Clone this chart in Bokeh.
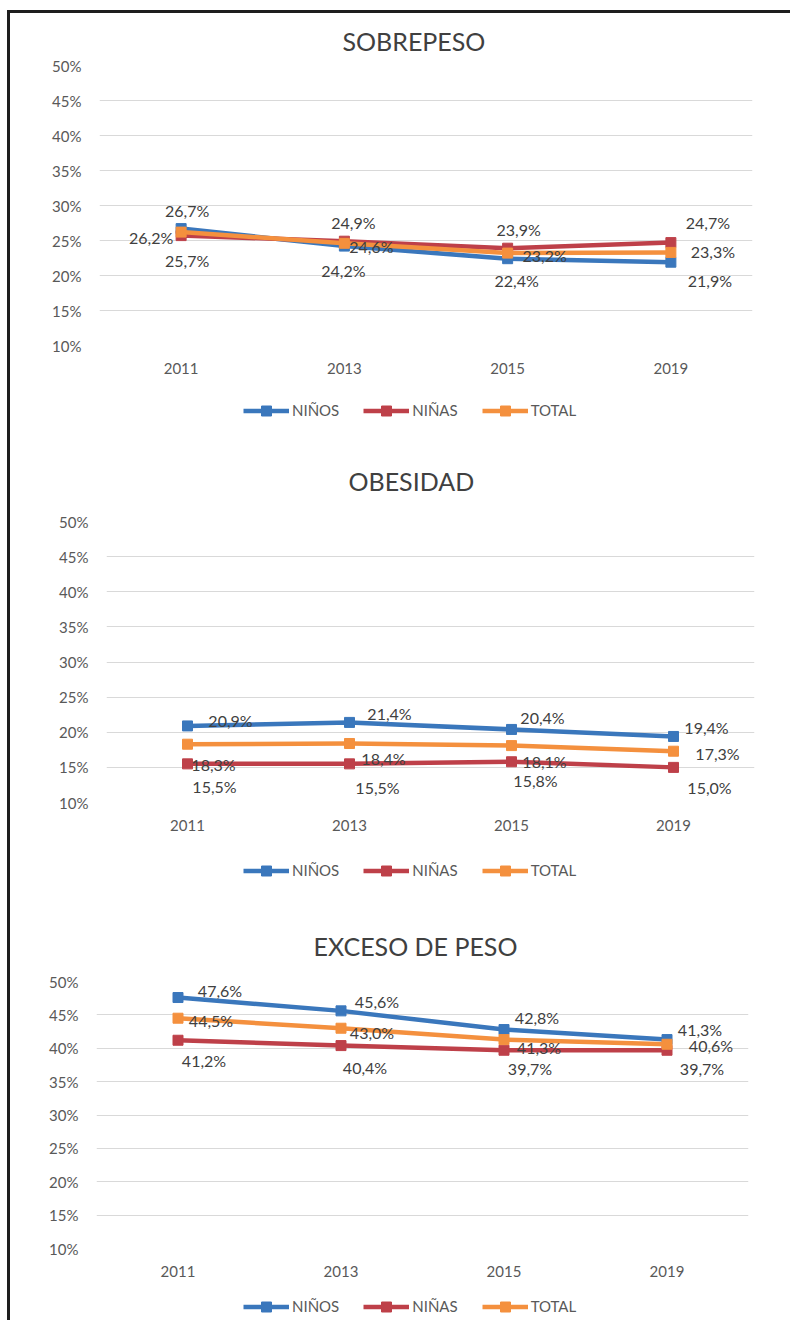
from bokeh.plotting import figure
from bokeh.layouts import column, row
from bokeh.models import (Range1d, FactorRange, FixedTicker, PrintfTickFormatter,
                          Legend, LegendItem, ColumnDataSource, Spacer)
from bokeh.core.properties import value
from bokeh.embed import file_html
from bokeh.resources import INLINE

# ---------------- data ----------------
years = ["2011", "2013", "2015", "2019"]
series_names = ["NIÑOS", "NIÑAS", "TOTAL"]

sobrepeso_ninos = [26.7, 24.2, 22.4, 21.9]
sobrepeso_ninas = [25.7, 24.9, 23.9, 24.7]
sobrepeso_total = [26.2, 24.6, 23.2, 23.3]

obesidad_ninos = [20.9, 21.4, 20.4, 19.4]
obesidad_ninas = [15.5, 15.5, 15.8, 15.0]
obesidad_total = [18.3, 18.4, 18.1, 17.3]

exceso_ninos = [47.6, 45.6, 42.8, 41.3]
exceso_ninas = [41.2, 40.4, 39.7, 39.7]
exceso_total = [44.5, 43.0, 41.3, 40.6]

y_ticks = [10, 15, 20, 25, 30, 35, 40, 45, 50]

# ---------------- styling ----------------
COLORS = ["#3A77BC", "#BE4049", "#F4903E"]
FONT = "Lato"
TEXT_COL = "#404040"
AXIS_COL = "#595959"
BORDER_COL = "#1E1E1E"

# data label offsets (pixels; dy positive = downward) per series
sob_off = {
    "dx": [[6, -1, 9, 39], [6, 9, 11, 37], [-30, 27, 37, 42]],
    "dy": [[-18, 24, 22, 18], [25, -19, -19, -20], [5, 3, 2, -1]],
}
obe_off = {
    "dx": [[43, 40, 31, 33], [27, 28, 24, 36], [26, 34, 33, 44]],
    "dy": [[-5, -9, -12, -9], [23, 24, 19, 20], [20, 15, 16, 2]],
}
exc_off = {
    "dx": [[42, 36, 33, 33], [26, 24, 26, 35], [33, 31, 35, 44]],
    "dy": [[-7, -9, -12, -10], [20, 22, 18, 18], [2, 4, 8, 1]],
}


def fmt(v):
    return ("%.1f%%" % v).replace(".", ",")


W = 780


def make_chart(title, series, offs, height, top, bottom, left, right,
               title_offset, title_standoff):
    p = figure(x_range=FactorRange(*years), y_range=Range1d(10, 50),
               width=W, height=height, output_backend="svg",
               toolbar_location=None,
               min_border_left=left, min_border_right=right,
               min_border_top=top, min_border_bottom=bottom)
    p.title.text = title
    p.title.align = "left"
    p.title.offset = title_offset
    p.title.vertical_align = "middle"
    p.title.standoff = title_standoff
    p.title.text_font = FONT
    p.title.text_font_size = "25px"
    p.title.text_font_style = "normal"
    p.title.text_color = TEXT_COL

    p.outline_line_color = None
    p.xgrid.grid_line_color = None
    p.ygrid.ticker = FixedTicker(ticks=y_ticks)
    p.ygrid.grid_line_color = "#D9D9D9"
    p.ygrid.grid_line_width = 1

    p.yaxis.ticker = FixedTicker(ticks=y_ticks)
    p.yaxis.formatter = PrintfTickFormatter(format="%d%%")
    for ax in (p.xaxis[0], p.yaxis[0]):
        ax.axis_line_color = None
        ax.major_tick_line_color = None
        ax.minor_tick_line_color = None
        ax.major_tick_out = 0
        ax.major_tick_in = 0
        ax.major_label_text_font = FONT
        ax.major_label_text_font_size = "15px"
        ax.major_label_text_color = AXIS_COL
    p.yaxis.major_label_standoff = 18
    p.xaxis.major_label_standoff = 17

    for name, vals, col in zip(series_names, series, COLORS):
        src = ColumnDataSource(dict(year=years, val=vals))
        p.line(x="year", y="val", source=src, line_color=col,
               line_width=4.5, line_join="round")
        p.scatter(x="year", y="val", source=src, marker="square",
                  size=10, fill_color=col, line_color=col)

    for i, vals in enumerate(series):
        lsrc = ColumnDataSource(dict(year=years, val=vals,
                                     label=[fmt(v) for v in vals],
                                     dx=offs["dx"][i], dy=offs["dy"][i]))
        p.text(x="year", y="val", text="label", x_offset="dx", y_offset="dy",
               source=lsrc, text_align="center", text_baseline="middle",
               text_font=value(FONT), text_font_size="16px",
               text_color=TEXT_COL)
    return p


def make_legend(series, height, left, right, lx, ly):
    # the series are drawn outside this strip's visible range; only the
    # legend (which uses their line/marker styles) shows
    lf = figure(width=W, height=height, x_range=FactorRange(*years),
                y_range=Range1d(0, 1), output_backend="svg",
                toolbar_location=None, title=None,
                x_axis_type=None, y_axis_type=None,
                min_border_left=left, min_border_right=right,
                min_border_top=0, min_border_bottom=0)
    lf.outline_line_color = None
    items = []
    for name, vals, col in zip(series_names, series, COLORS):
        src = ColumnDataSource(dict(year=years, val=vals))
        lr = lf.line(x="year", y="val", source=src, line_color=col,
                     line_width=4.5)
        sr = lf.scatter(x="year", y="val", source=src, marker="square",
                        size=10, fill_color=col, line_color=col)
        items.append(LegendItem(label=name, renderers=[lr, sr]))
    lf.add_layout(Legend(items=items, location=(lx, ly),
                         orientation="horizontal",
                         label_text_font=FONT, label_text_font_size="15px",
                         label_text_color=AXIS_COL, glyph_width=46,
                         glyph_height=25, label_standoff=3, spacing=24,
                         padding=0, margin=0, border_line_color=None,
                         background_fill_alpha=0))
    return lf


s1 = [sobrepeso_ninos, sobrepeso_ninas, sobrepeso_total]
s2 = [obesidad_ninos, obesidad_ninas, obesidad_total]
s3 = [exceso_ninos, exceso_ninas, exceso_total]

p1 = make_chart("SOBREPESO", s1, sob_off, height=372, top=52, bottom=40,
                left=89, right=38, title_offset=243, title_standoff=18)
l1 = make_legend(s1, 54, 89, 38, 144, 16.5)
p2 = make_chart("OBESIDAD", s2, obe_off, height=403, top=82, bottom=40,
                left=96, right=36, title_offset=242, title_standoff=50)
l2 = make_legend(s2, 67, 96, 36, 137, 26.5)
p3 = make_chart("EXCESO DE PESO", s3, exc_off, height=379, top=72, bottom=40,
                left=86, right=42, title_offset=217, title_standoff=40)
l3 = make_legend(s3, 32, 86, 42, 147, 1.5)

charts_h = 372 + 54 + 403 + 67 + 379 + 32
top_border = Spacer(width=3 + W, height=3,
                    styles={"background-color": BORDER_COL})
left_border = Spacer(width=3, height=charts_h,
                     styles={"background-color": BORDER_COL})
stack = column(row(column(p1, l1)), row(column(p2, l2)), row(column(p3, l3)))
inner = column(top_border, row(left_border, stack))
layout = column(Spacer(width=10, height=10),
                row(Spacer(width=7, height=10), inner))

open("out.html", "w").write(file_html(layout, INLINE))
